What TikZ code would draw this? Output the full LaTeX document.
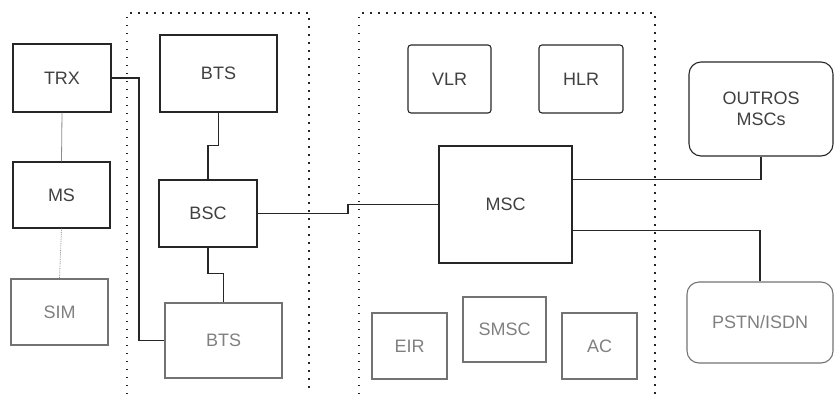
\documentclass[tikz,border=0pt]{standalone}
\usepackage{fontspec}
\setmainfont{Liberation Sans}
\usetikzlibrary{calc}
\begin{document}
\begin{tikzpicture}[x=1pt,y=-1pt,
  box/.style={draw=black!85,line width=1.1pt,inner sep=0pt,text=black!75,
    font=\fontsize{18}{21}\selectfont,align=center},
  fbox/.style={box,draw=black!55,text=black!50},
  rbox/.style={box,rounded corners=3pt},
  bigr/.style={box,rounded corners=12pt},
  wire/.style={draw=black!85,line width=1.1pt},
  fwire/.style={draw=black!45,line width=0.8pt},
  frame/.style={draw=black!85,line width=1.5pt,dash pattern=on 1.5pt off 6.5pt}]
\useasboundingbox (0,0) rectangle (834,394);
% frames
\draw[frame] (127,394) -- (127,13) -- (309,13) -- (309,394);
\draw[frame] (359,394) -- (359,13) -- (655,13) -- (655,394);
% nodes
\node[box,minimum width=98pt,minimum height=68pt] (trx) at (62,78) {TRX};
\node[box,minimum width=97pt,minimum height=66pt] (ms) at (61.5,195) {MS};
\node[fbox,minimum width=97pt,minimum height=66pt] (sim) at (59.5,312) {SIM};
\node[box,minimum width=117pt,minimum height=77pt] (bts1) at (218.5,73.5) {BTS};
\node[box,minimum width=98pt,minimum height=67pt] (bsc) at (208,213.5) {BSC};
\node[fbox,minimum width=117pt,minimum height=75pt] (bts2) at (223.5,340.5) {BTS};
\node[rbox,minimum width=83pt,minimum height=68pt] (vlr) at (449.5,79) {VLR};
\node[rbox,minimum width=84pt,minimum height=68pt] (hlr) at (581,79) {HLR};
\node[box,minimum width=133pt,minimum height=117pt] (msc) at (505.5,204.5) {MSC};
\node[bigr,minimum width=144pt,minimum height=94pt] (outros) at (761,109) {OUTROS\\MSCs};
\node[bigr,draw=black!55,text=black!50,minimum width=146pt,minimum height=81pt] (pstn) at (760,322.5) {PSTN/ISDN};
\node[fbox,minimum width=75pt,minimum height=66pt] (eir) at (409.5,346) {EIR};
\node[fbox,minimum width=83pt,minimum height=65pt] (smsc) at (504.5,329.5) {SMSC};
\node[fbox,minimum width=75pt,minimum height=66pt] (ac) at (599.5,346) {AC};
% connectors
\draw[fwire] (trx.south) -- (ms.north);
\draw[fwire,densely dotted] (ms.south) -- (sim.north);
\coordinate (c1) at (139,78);
\draw[wire] (trx.east) -- (c1) |- (bts2.west);
\draw[wire] (bts1.south) -- ++(0,33) -| (bsc.north);
\draw[wire] (bsc.south) -- ++(0,26) -| (bts2.north);
\coordinate (jog) at (348,213.5);
\draw[wire] (bsc.east) -- (jog) |- (msc.west);
\draw[wire] ($(msc.north east)!0.29!(msc.south east)$) -| (outros.south);
\draw[wire] ($(msc.north east)!0.72!(msc.south east)$) -| (pstn.north);
\end{tikzpicture}
\end{document}
